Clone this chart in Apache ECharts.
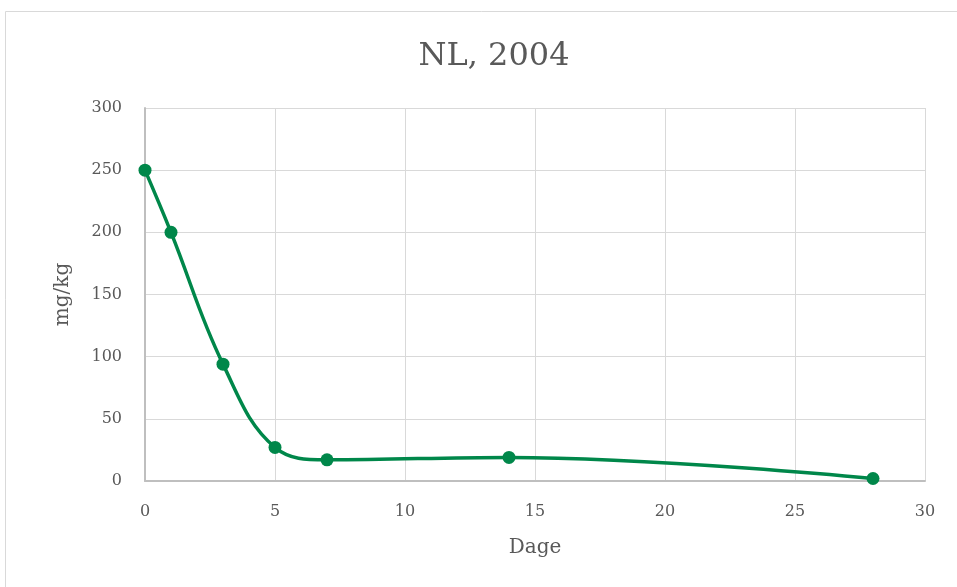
<!DOCTYPE html>
<html><head><meta charset="utf-8">
<script src="https://cdn.jsdelivr.net/npm/echarts@6/dist/echarts.min.js"></script>
<style>html,body{margin:0;padding:0;background:#fff}#c{width:957px;height:587px}</style>
</head><body><div id="c"></div>
<script>
const days = [0, 1, 3, 5, 7, 14, 28];
const values = [250, 200, 94, 27, 17, 19, 2];
const titleText = 'NL, 2004';
const xName = 'Dage';
const yName = 'mg/kg';
const font = 'Georgia, "DejaVu Serif", serif';
const chart = echarts.init(document.getElementById('c'));
chart.setOption({
  animation: false,
  graphic: [{type:'rect', shape:{x:5.5,y:11.5,width:1000,height:1000}, style:{fill:'none', stroke:'#d9d9d9', lineWidth:1}, silent:true}],
  title: {text: titleText, left: 489, textAlign:'center', top: 36, textStyle:{fontFamily: font, fontSize: 32, fontWeight:'normal', color:'#595959'}},
  grid: {left:145, right:32, top:108, bottom:106},
  xAxis: {type:'value', min:0, max:30, interval:5, name:xName, nameLocation:'middle', nameGap:57,
    nameTextStyle:{fontFamily:font, fontSize:20, color:'#595959'},
    axisLine:{show:true, lineStyle:{color:'#bfbfbf', width:2}}, axisTick:{show:false},
    axisLabel:{fontFamily:font, fontSize:16, color:'#595959', margin:23},
    splitLine:{show:true, lineStyle:{color:'#d9d9d9', width:1}}},
  yAxis: {type:'value', min:0, max:300, interval:50, name:yName, nameLocation:'middle', nameGap:72, nameRotate:90,
    nameTextStyle:{fontFamily:font, fontSize:20, color:'#595959'},
    axisLine:{show:true, lineStyle:{color:'#bfbfbf', width:2}}, axisTick:{show:false},
    axisLabel:{fontFamily:font, fontSize:16, color:'#595959', margin:23},
    splitLine:{show:true, lineStyle:{color:'#d9d9d9', width:1}}},
  series: [{type:'line', data: days.map((d,i)=>[d, values[i]]), smooth:0.4,
    symbol:'circle', symbolSize:13, lineStyle:{color:'#00874a', width:3.5},
    itemStyle:{color:'#00874a'}}]
});
</script></body></html>
